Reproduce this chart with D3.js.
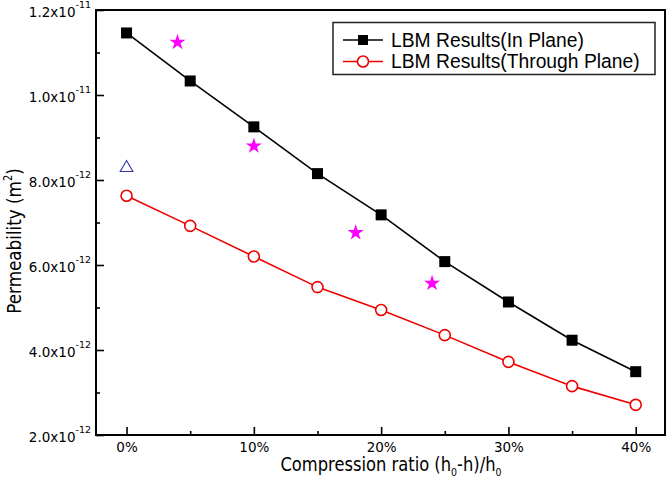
<!DOCTYPE html>
<html>
<head>
<meta charset="utf-8">
<script src="https://cdn.jsdelivr.net/npm/d3@7"></script>
<style>
  html, body { margin: 0; padding: 0; background: #fff; }
  svg { display: block; }
</style>
</head>
<body>
<svg id="chart" width="667" height="485"></svg>
<script>
// ---- data ----
const ratios = [0, 5, 10, 15, 20, 25, 30, 35, 40];           // compression ratio (%)
const inPlane = [11.46, 10.33, 9.25, 8.15, 7.18, 6.08, 5.13, 4.23, 3.49]; // x1e-12 m^2
const throughPlane = [7.63, 6.92, 6.20, 5.48, 4.94, 4.35, 3.72, 3.15, 2.71]; // x1e-12 m^2
const starX = [4, 10, 18, 24];
const starY = [11.24, 8.80, 6.76, 5.57];
const triX = [0];
const triY = [8.31];
const xTicks = [0, 10, 20, 30, 40];
const xMinor = [5, 15, 25, 35];
const yTicks = [2, 4, 6, 8, 10, 12];
const yMinor = [3, 5, 7, 9, 11];
const yTickMain = ["2.0x10", "4.0x10", "6.0x10", "8.0x10", "1.0x10", "1.2x10"];
const yTickExp = ["-12", "-12", "-12", "-12", "-11", "-11"];
const seriesNames = ["LBM Results(In Plane)", "LBM Results(Through Plane)"];

// ---- layout ----
const L = 96, R = 665, T = 10, B = 435;
const svg = d3.select("#chart");
const x = d3.scaleLinear().domain([-2.4, 42.3]).range([L, R]);
const y = d3.scaleLinear().domain([2, 12]).range([B, T]);
const tickFont = "'DejaVu Sans', Verdana, sans-serif";

// frame
svg.append("rect").attr("x", L).attr("y", T).attr("width", R - L).attr("height", B - T)
  .attr("fill", "none").attr("stroke", "#000").attr("stroke-width", 2);

// x axis
const gx = svg.append("g").attr("transform", `translate(0,${B})`)
  .call(d3.axisBottom(x).tickValues(xTicks).tickSize(-8).tickPadding(7).tickFormat(d => d + "%"));
gx.select(".domain").remove();
gx.selectAll(".tick line").attr("stroke-width", 1.6);
gx.selectAll("text").attr("font-family", tickFont).attr("font-size", 13.5).attr("fill", "#000");
svg.append("g").attr("transform", `translate(0,${B})`)
  .call(d3.axisBottom(x).tickValues(xMinor).tickSize(-4).tickFormat(""))
  .call(g => g.select(".domain").remove())
  .selectAll(".tick line").attr("stroke-width", 1.6);

// y axis
const gy = svg.append("g").attr("transform", `translate(${L},0)`)
  .call(d3.axisLeft(y).tickValues(yTicks).tickSize(-8).tickPadding(14).tickFormat(""));
gy.select(".domain").remove();
gy.selectAll(".tick line").attr("stroke-width", 1.6);
gy.selectAll(".tick").each(function(d, i) {
  const t = d3.select(this).append("text")
    .attr("x", -5).attr("dy", "0.45em")
    .attr("text-anchor", "end")
    .attr("font-family", tickFont).attr("font-size", 13.5).attr("fill", "#000");
  t.append("tspan").text(yTickMain[i]);
  t.append("tspan").attr("dy", -9).attr("font-size", 9.5).text(yTickExp[i]);
});
svg.append("g").attr("transform", `translate(${L},0)`)
  .call(d3.axisLeft(y).tickValues(yMinor).tickSize(-4).tickFormat(""))
  .call(g => g.select(".domain").remove())
  .selectAll(".tick line").attr("stroke-width", 1.6);

// axis titles
const xt = svg.append("text").attr("transform", "translate(391,471) scale(0.86,1)")
  .attr("text-anchor", "middle").attr("font-family", tickFont).attr("font-size", 19).attr("fill", "#000");
xt.append("tspan").text("Compression ratio (h");
xt.append("tspan").attr("font-size", 11).attr("dy", 5).text("0");
xt.append("tspan").attr("dy", -5).text("-h)/h");
xt.append("tspan").attr("font-size", 11).attr("dy", 5).text("0");

const yt = svg.append("text").attr("transform", "translate(21,241) rotate(-90) scale(0.86,1)")
  .attr("text-anchor", "middle").attr("font-family", tickFont).attr("font-size", 19.5).attr("fill", "#000");
yt.append("tspan").text("Permeability (m");
yt.append("tspan").attr("font-size", 11.5).attr("dy", -9).text("2");
yt.append("tspan").attr("dy", 9).text(")");

// lines
const line = d3.line().x((d, i) => x(ratios[i])).y(d => y(d));
svg.append("path").datum(inPlane).attr("d", line).attr("fill", "none").attr("stroke", "#000").attr("stroke-width", 1.6);
svg.append("path").datum(throughPlane).attr("d", line).attr("fill", "none").attr("stroke", "#ee0000").attr("stroke-width", 1.6);

// markers
svg.append("g").selectAll("rect").data(inPlane).join("rect")
  .attr("x", (d, i) => x(ratios[i]) - 5.5).attr("y", d => y(d) - 5.5)
  .attr("width", 11).attr("height", 11).attr("fill", "#000");
svg.append("g").selectAll("circle").data(throughPlane).join("circle")
  .attr("cx", (d, i) => x(ratios[i])).attr("cy", d => y(d)).attr("r", 5.5)
  .attr("fill", "#fff").attr("stroke", "#ee0000").attr("stroke-width", 1.6);

const star = d3.symbol().type(d3.symbolStar).size(80);
svg.append("g").selectAll("path").data(starY).join("path")
  .attr("d", star).attr("transform", (d, i) => `translate(${x(starX[i])},${y(d)})`)
  .attr("fill", "#ff00ff");
const tri = d3.symbol().type(d3.symbolTriangle).size(70);
svg.append("g").selectAll("path").data(triY).join("path")
  .attr("d", tri).attr("transform", (d, i) => `translate(${x(triX[i])},${y(d) + 1})`)
  .attr("fill", "none").attr("stroke", "#3333aa").attr("stroke-width", 1.1);

// legend
const lg = svg.append("g");
lg.append("rect").attr("x", 333).attr("y", 22.5).attr("width", 322).attr("height", 52)
  .attr("fill", "#fff").attr("stroke", "#222").attr("stroke-width", 1.5);
const rows = [40, 61.5];
const cols = ["#000", "#ee0000"];
rows.forEach((ry, i) => {
  lg.append("line").attr("x1", 343).attr("x2", 383).attr("y1", ry).attr("y2", ry)
    .attr("stroke", cols[i]).attr("stroke-width", 1.6);
  if (i === 0) {
    lg.append("rect").attr("x", 363 - 5).attr("y", ry - 5).attr("width", 10).attr("height", 10).attr("fill", "#000");
  } else {
    lg.append("circle").attr("cx", 363).attr("cy", ry).attr("r", 5.5)
      .attr("fill", "#fff").attr("stroke", "#ee0000").attr("stroke-width", 1.6);
  }
  lg.append("text").attr("x", 391).attr("y", ry).attr("dy", "0.35em")
    .attr("font-family", "'Liberation Sans', Arial, sans-serif").attr("font-size", 19.3)
    .attr("fill", "#000").text(seriesNames[i]);
});
</script>
</body>
</html>
